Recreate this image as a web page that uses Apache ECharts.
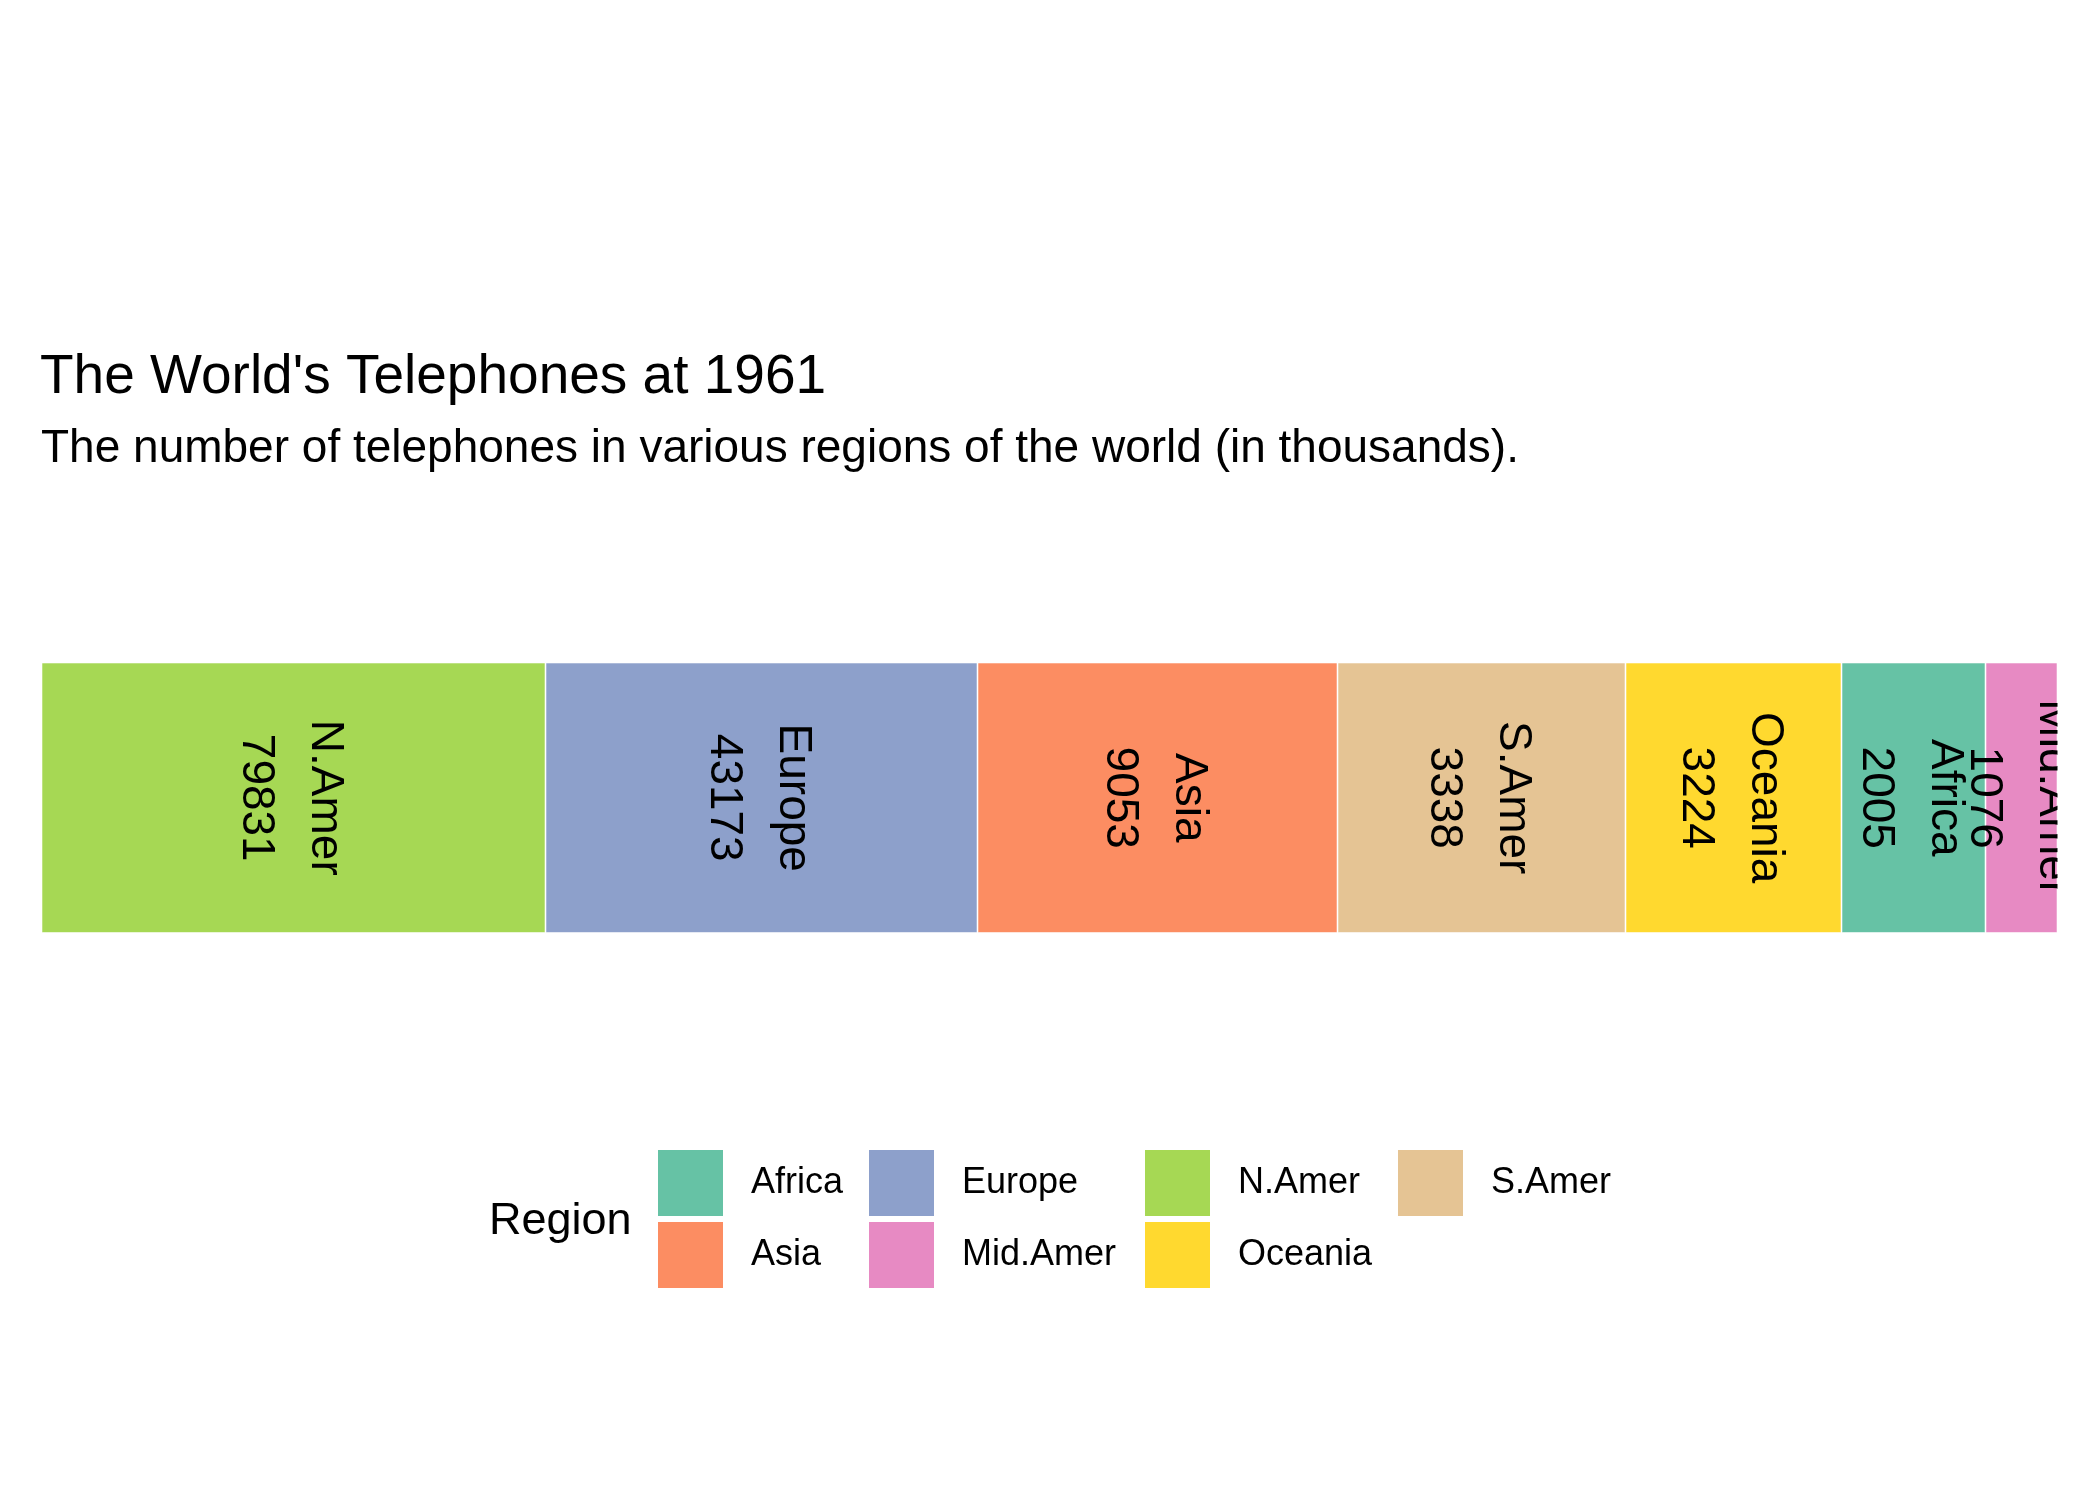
<!DOCTYPE html>
<html>
<head>
<meta charset="utf-8">
<script src="https://cdn.jsdelivr.net/npm/echarts@6/dist/echarts.min.js"></script>
<style>html,body{margin:0;padding:0;background:#fff}#c{width:2099px;height:1499px}</style>
</head>
<body>
<div id="c"></div>
<script>
// ---- data ----
const regions = ['N.Amer', 'Europe', 'Asia', 'S.Amer', 'Oceania', 'Africa', 'Mid.Amer'];
const phones = [79831, 43173, 9053, 3338, 3224, 2005, 1076];
const legendOrder = ['Africa', 'Asia', 'Europe', 'Mid.Amer', 'N.Amer', 'Oceania', 'S.Amer'];
const palette = ['#66C2A5', '#FC8D62', '#8DA0CB', '#E78AC3', '#A6D854', '#FFD92F', '#E5C494'];

// tile widths in the reference follow the rank of each region's value
const rankOf = v => phones.filter(p => p <= v).length;
const total = phones.reduce((s, v) => s + rankOf(v), 0);

const FONT = 'Liberation Sans, Arial, Helvetica, sans-serif';
const colorOf = name => palette[legendOrder.indexOf(name)];

const series = regions.map((r, i) => ({
  name: r,
  type: 'bar',
  stack: 'all',
  barWidth: '100%',
  data: [rankOf(phones[i])],
  itemStyle: { color: colorOf(r), borderColor: 'rgba(255,255,255,0.55)', borderWidth: 1 },
  label: {
    show: true,
    position: 'inside',
    rotate: -90,
    offset: [0, 3],
    formatter: () => r + '\n' + phones[i],
    fontFamily: FONT,
    fontSize: 46,
    lineHeight: 69,
    color: '#000',
    align: 'center'
  },
  emphasis: { disabled: true }
}));

const legendCols = [['Africa', 'Asia'], ['Europe', 'Mid.Amer'], ['N.Amer', 'Oceania'], ['S.Amer']];
const legendLeft = [658, 869, 1145, 1398];
const legends = legendCols.map((col, k) => ({
  data: col,
  orient: 'vertical',
  left: legendLeft[k],
  top: 1150,
  padding: 0,
  itemWidth: 65,
  itemHeight: 66,
  itemGap: 6,
  icon: 'rect',
  selectedMode: false,
  itemStyle: { borderWidth: 0 },
  textStyle: { fontFamily: FONT, fontSize: 36, color: '#000', padding: [6, 0, 0, 23] }
}));

const chart = echarts.init(document.getElementById('c'), null, { renderer: 'canvas' });
chart.setOption({
  animation: false,
  backgroundColor: '#fff',
  title: [
    { text: "The World's Telephones at 1961", left: 40, top: 350, padding: 0,
      textStyle: { fontFamily: FONT, fontSize: 55, lineHeight: 55, fontWeight: 'normal', color: '#000' } },
    { text: 'The number of telephones in various regions of the world (in thousands).', left: 41, top: 426, padding: 0,
      textStyle: { fontFamily: FONT, fontSize: 46, lineHeight: 46, fontWeight: 'normal', color: '#000' } },
    { text: 'Region', left: 489, top: 1199, padding: 0,
      textStyle: { fontFamily: FONT, fontSize: 45, lineHeight: 45, fontWeight: 'normal', color: '#000' } }
  ],
  legend: legends,
  grid: { left: 41.5, right: 41.5, top: 662.5, height: 270.5, containLabel: false },
  xAxis: { type: 'value', min: 0, max: total, show: false },
  yAxis: { type: 'category', data: ['all'], show: false },
  series: series,
  graphic: [
    { type: 'rect', z: 100, shape: { x: 2057.5, y: 640, width: 50, height: 320 }, style: { fill: '#fff' }, silent: true }
  ]
});
</script>
</body>
</html>
